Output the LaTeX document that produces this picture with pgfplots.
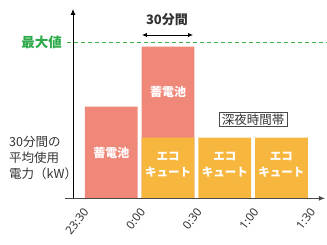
\documentclass[border=0pt]{standalone}
\usepackage{fontspec}
\setmainfont{Noto Sans CJK JP}
\newfontfamily\tickfont{Noto Sans}
\usepackage{pgfplots}
\pgfplotsset{compat=1.18}
\usetikzlibrary{arrows.meta}
\definecolor{pinkbar}{HTML}{F0887A}
\definecolor{orangebar}{HTML}{F7B73F}
\definecolor{maxgreen}{HTML}{2EAA4A}
\definecolor{dashgreen}{HTML}{3DB54A}
\definecolor{txt}{HTML}{333333}
\definecolor{axgray}{HTML}{4A4A4A}
\begin{document}
\begin{tikzpicture}[x=1pt,y=1pt]
\useasboundingbox (0,0) rectangle (327,244);
\begin{axis}[
  at={(73pt,45.7pt)}, anchor=south west,
  scale only axis, width=252pt, height=189.3pt,
  xmin=-0.1764, xmax=4.268, ymin=0, ymax=189.3,
  clip=false,
  axis line style={draw=none},
  ytick=\empty,
  xtick={0,1,2,3,4},
  xticklabels={23:30,0:00,0:30,1:00,1:30},
  major tick length=0pt,
  x tick label style={xshift=3pt, yshift=-11.5pt, rotate=52, anchor=east, font=\tickfont\fontsize{11.5}{12}\selectfont, text=txt, inner sep=0pt},
  /pgf/number format/assume math mode=true,
]
% pink (storage battery) bars, full height
\addplot[ybar, bar width=0.93, bar shift=0pt, fill=pinkbar, draw=none] coordinates {(0.5,91.6) (1.5,151.6)};
% orange (EcoCute) bars
\addplot[ybar, bar width=0.93, bar shift=0pt, fill=orangebar, draw=none] coordinates {(1.5,60.8) (2.5,60.8) (3.5,60.8)};
% max line
\addplot[dashgreen, line width=1.1pt, dash pattern=on 4pt off 3pt] coordinates {(-0.282,155.6) (4.30,155.6)};
% axes
\draw[line width=0.9pt, black, -{Latex[length=6pt,width=5pt]}] (axis cs:-0.1764,0) -- (axis cs:-0.1764,189.3);
\draw[line width=0.9pt, axgray, -{Latex[length=6pt,width=5pt]}] (axis cs:-0.317,0) -- (axis cs:4.268,0);
% 30 min arrow
\draw[line width=0.9pt, black, {Latex[length=5pt,width=4.5pt]}-{Latex[length=5pt,width=4.5pt]}] (axis cs:1.04,163.3) -- (axis cs:1.94,163.3);
\node[font=\fontsize{13}{15}\selectfont\bfseries, text=txt] at (axis cs:1.48,178.3) {30分間};
% labels
\node[anchor=east, font=\fontsize{13.5}{15}\selectfont\bfseries, text=maxgreen, inner sep=0pt] at (axis cs:-0.37,155.6) {最大値};
\node[font=\fontsize{12}{14}\selectfont\bfseries, text=white] at (axis cs:0.5,45.8) {蓄電池};
\node[font=\fontsize{12}{14}\selectfont\bfseries, text=white] at (axis cs:1.5,106.2) {蓄電池};
\node[font=\fontsize{11.5}{16}\selectfont\bfseries, text=white, align=center] at (axis cs:1.5,33.3) {エコ\\キュート};
\node[font=\fontsize{11.5}{16}\selectfont\bfseries, text=white, align=center] at (axis cs:2.5,33.3) {エコ\\キュート};
\node[font=\fontsize{11.5}{16}\selectfont\bfseries, text=white, align=center] at (axis cs:3.5,33.3) {エコ\\キュート};
\node[draw=axgray, line width=0.7pt, fill=white, font=\fontsize{12.5}{14}\selectfont, text=txt, inner xsep=3pt, inner ysep=1.5pt] at (axis cs:3.0,78.8) {深夜時間帯};
\node[anchor=west, align=left, font=\fontsize{12.5}{16}\selectfont, text=txt, inner sep=0pt] at (axis cs:-1.305,40.3) {30分間の\\平均使用\\電力（kW）};
\end{axis}
\end{tikzpicture}
\end{document}
